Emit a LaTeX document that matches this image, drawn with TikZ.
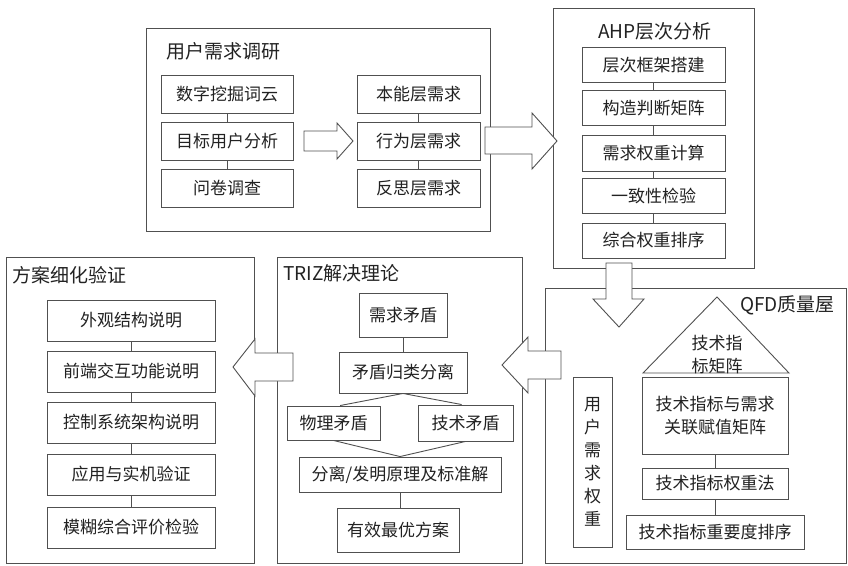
\documentclass[tikz,border=0pt]{standalone}
\usepackage{fontspec}
\setmainfont{Noto Sans CJK SC}
\usetikzlibrary{calc}
\definecolor{lc}{HTML}{505050}
\definecolor{tc}{HTML}{222222}
\begin{document}
\begin{tikzpicture}[x=1pt,y=-1pt,
  box/.style={draw=lc, fill=white, line width=0.9pt, inner sep=0pt, align=center,
    font=\fontsize{17}{23}\selectfont, text=tc},
  grp/.style={draw=lc, line width=0.9pt, inner sep=0pt},
  ttl/.style={font=\fontsize{19}{23}\selectfont, text=tc, inner sep=0pt},
  conn/.style={draw=lc, line width=0.9pt},
  barrow/.style={draw=lc, fill=white, line width=0.9pt, line join=miter},
]
\useasboundingbox (0,0) rectangle (848,565);

% ---------- groups ----------
\node[grp, minimum width=344, minimum height=203] (g1) at (318,129.5) {};
\node[grp, minimum width=201, minimum height=260] (g2) at (653.5,138) {};
\node[grp, minimum width=301, minimum height=275] (g3) at (695.5,425.5) {};
\node[grp, minimum width=245, minimum height=306] (g4) at (399.5,410) {};
\node[grp, minimum width=248, minimum height=306] (g5) at (130,410) {};

% ---------- titles ----------
\node[ttl, anchor=west] (g1t) at (166,51) {用户需求调研};
\node[ttl] (g2t) at (655,31) {AHP层次分析};
\node[ttl, anchor=east] (g3t) at (835,305) {QFD质量屋};
\node[ttl, anchor=west] (g4t) at (283,273) {TRIZ解决理论};
\node[ttl, anchor=west] (g5t) at (12,275) {方案细化验证};

% ---------- 用户需求调研 ----------
\node[box, minimum width=132, minimum height=38] (a1) at (227,94) {数字挖掘词云};
\node[box, minimum width=132, minimum height=38] (a2) at (227,141) {目标用户分析};
\node[box, minimum width=132, minimum height=38] (a3) at (227,188) {问卷调查};
\node[box, minimum width=123, minimum height=38] (b1) at (418.5,94) {本能层需求};
\node[box, minimum width=123, minimum height=38] (b2) at (418.5,141) {行为层需求};
\node[box, minimum width=123, minimum height=38] (b3) at (418.5,188) {反思层需求};
\draw[conn] (a1.south) -- (a2.north);
\draw[conn] (a2.south) -- (a3.north);
\draw[conn] (b1.south) -- (b2.north);
\draw[conn] (b2.south) -- (b3.north);

% ---------- AHP ----------
\node[box, minimum width=143, minimum height=35] (c1) at (653.5,65) {层次框架搭建};
\node[box, minimum width=143, minimum height=35] (c2) at (653.5,108) {构造判断矩阵};
\node[box, minimum width=143, minimum height=36] (c3) at (653.5,153) {需求权重计算};
\node[box, minimum width=143, minimum height=35] (c4) at (653.5,195.5) {一致性检验};
\node[box, minimum width=143, minimum height=35] (c5) at (653.5,240.5) {综合权重排序};
\draw[conn] (c1.south) -- (c2.north);
\draw[conn] (c2.south) -- (c3.north);
\draw[conn] (c3.south) -- (c4.north);
\draw[conn] (c4.south) -- (c5.north);

% ---------- QFD ----------
\draw[conn] (717,297) -- (643,373) -- (789,373) -- cycle;
\node[box, draw=none, fill=none] (tri) at (717,355) {技术指\\标矩阵};
\node[box, minimum width=146, minimum height=77] (q1) at (715,415.5) {技术指标与需求\\关联赋值矩阵};
\node[box, minimum width=146, minimum height=31] (q2) at (715,483.5) {技术指标权重法};
\node[box, minimum width=178, minimum height=34] (q3) at (715,532) {技术指标重要度排序};
\node[box, minimum width=39, minimum height=170] (qv) at (592.5,462) {用\\户\\需\\求\\权\\重};
\draw[conn] (q1.south) -- (q2.north);
\draw[conn] (q2.south) -- (q3.north);

% ---------- TRIZ ----------
\node[box, minimum width=88, minimum height=44] (t1) at (403,315) {需求矛盾};
\node[box, minimum width=128, minimum height=41] (t2) at (403,372.5) {矛盾归类分离};
\node[box, minimum width=93, minimum height=34] (t3) at (333.5,423) {物理矛盾};
\node[box, minimum width=95, minimum height=36] (t4) at (465.5,423) {技术矛盾};
\node[box, minimum width=202, minimum height=35] (t5) at (400,474.5) {分离/发明原理及标准解};
\node[box, minimum width=122, minimum height=44] (t6) at (398,530) {有效最优方案};
\draw[conn] (t1.south) -- (t2.north);
\draw[conn] (t2.south) -- ($(t3.north west)!0.57!(t3.north east)$);
\draw[conn] (t2.south) -- ($(t4.north west)!0.46!(t4.north east)$);
\draw[conn] (t3.south) -- (t5.north);
\draw[conn] (t4.south) -- (t5.north);
\draw[conn] (t5.south) -- (t5.south |- t6.north);

% ---------- 方案细化验证 ----------
\node[box, minimum width=168, minimum height=41] (p1) at (131,320.5) {外观结构说明};
\node[box, minimum width=168, minimum height=41] (p2) at (131,371.5) {前端交互功能说明};
\node[box, minimum width=168, minimum height=41] (p3) at (131,422.5) {控制系统架构说明};
\node[box, minimum width=168, minimum height=41] (p4) at (131,474.5) {应用与实机验证};
\node[box, minimum width=168, minimum height=41] (p5) at (131,527.5) {模糊综合评价检验};
\draw[conn] (p1.south) -- (p2.north);
\draw[conn] (p2.south) -- (p3.north);
\draw[conn] (p3.south) -- (p4.north);
\draw[conn] (p4.south) -- (p5.north);

% ---------- block arrows ----------
\draw[barrow] (304,131) -- (337,131) -- (337,123) -- (353,141) -- (337,159) -- (337,151) -- (304,151) -- cycle;
\draw[barrow] (485,127) -- (532,127) -- (532,113) -- (557,141) -- (532,169) -- (532,154) -- (485,154) -- cycle;
\draw[barrow] (606,263) -- (606,299) -- (593,299) -- (619,327) -- (644,299) -- (632,299) -- (632,263) -- cycle;
\draw[barrow] (561,351) -- (528,351) -- (528,337) -- (502,365) -- (528,393) -- (528,379) -- (561,379) -- cycle;
\draw[barrow] (293,353) -- (255,353) -- (255,339) -- (233,367) -- (255,396) -- (255,381) -- (293,381) -- cycle;
\end{tikzpicture}
\end{document}
